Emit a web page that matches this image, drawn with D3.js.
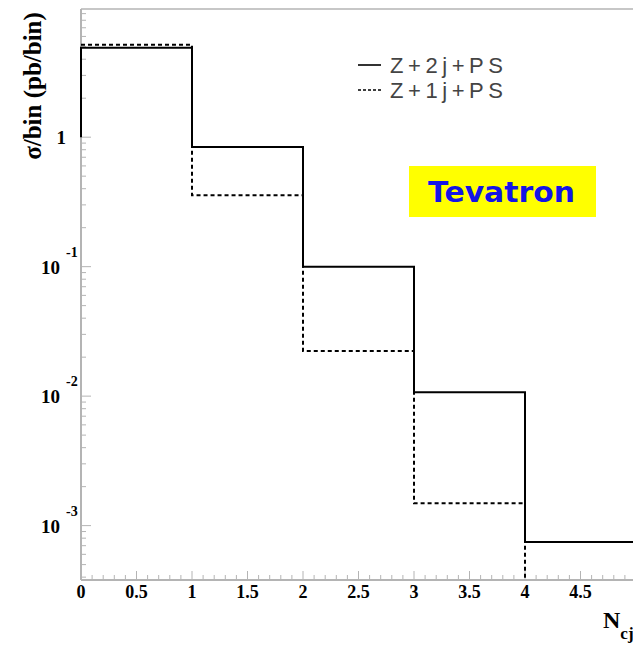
<!DOCTYPE html>
<html lang="en">
<head>
    <meta charset="UTF-8">
    <title>Z + jets, Tevatron</title>
    <script src="https://d3js.org/d3.v7.min.js"></script>
    <style>
        body { margin: 0; background: #fff; }
        svg { display: block; }
    </style>
</head>
<body>
    <svg width="633" height="646" id="chart"></svg>
    <script>
        const width = 633;
        const height = 646;

        // bin edges in N_cjets and sigma per bin (pb/bin)
        const binEdges = [0, 1, 2, 3, 4, 5];
        const z2jValues = [4.9, 0.84, 0.1, 0.0107, 0.000746];
        const z1jValues = [5.17, 0.356, 0.0223, 0.00149, 0];
        const seriesNames = ["Z+2j+PS", "Z+1j+PS"];
        const xTickLabels = ["0", "0.5", "1", "1.5", "2", "2.5", "3", "3.5", "4", "4.5"];
        const yDecades = [0, -1, -2, -3];

        const plot = { left: 81, top: 9, right: 636, bottom: 580 };
        const axisColor = "#b4b4b4";
        const serif = "'Liberation Serif', 'Times New Roman', serif";

        const svg = d3.select("#chart");

        const x = d3.scaleLinear().domain([0, 5]).range([plot.left, plot.right]);
        const y = d3.scaleLog()
            .domain([Math.pow(10, -3.42), Math.pow(10, 0.99)])
            .range([plot.bottom, plot.top]);
        const yMin = y.domain()[0];

        // frame: top and left/bottom axis lines
        svg.append("line")
            .attr("x1", plot.left).attr("x2", width)
            .attr("y1", plot.top).attr("y2", plot.top)
            .attr("stroke", axisColor).attr("stroke-width", 1.5);
        svg.append("line")
            .attr("x1", plot.left).attr("x2", plot.left)
            .attr("y1", plot.top).attr("y2", plot.bottom)
            .attr("stroke", axisColor).attr("stroke-width", 2);
        svg.append("line")
            .attr("x1", plot.left).attr("x2", width)
            .attr("y1", plot.bottom).attr("y2", plot.bottom)
            .attr("stroke", axisColor).attr("stroke-width", 2);

        // x ticks: minor every 0.1, major every 0.5
        const xTicks = d3.range(0, 51).map(i => i / 10);
        svg.append("g").selectAll("line")
            .data(xTicks)
            .join("line")
            .attr("x1", d => x(d)).attr("x2", d => x(d))
            .attr("y1", plot.bottom)
            .attr("y2", d => plot.bottom - (Math.abs(d * 2 - Math.round(d * 2)) < 1e-6 ? 9 : 5))
            .attr("stroke", axisColor).attr("stroke-width", 1);

        svg.append("g").selectAll("text")
            .data(xTickLabels)
            .join("text")
            .attr("x", d => x(+d))
            .attr("y", 598)
            .attr("text-anchor", "middle")
            .attr("font-family", serif)
            .attr("font-weight", "bold")
            .attr("font-size", 18)
            .text(d => d);

        // y ticks: log minor ticks, longer at decades
        const yTicks = y.ticks(20).filter(v => v >= yMin && v <= y.domain()[1]);
        svg.append("g").selectAll("line")
            .data(yTicks)
            .join("line")
            .attr("x1", plot.left)
            .attr("x2", d => plot.left + (Math.abs(Math.log10(d) - Math.round(Math.log10(d))) < 1e-6 ? 10 : 5))
            .attr("y1", d => y(d)).attr("y2", d => y(d))
            .attr("stroke", axisColor).attr("stroke-width", 1);

        const yLabels = svg.append("g")
            .attr("font-family", serif)
            .attr("font-weight", "bold");
        yDecades.forEach(p => {
            const yy = y(Math.pow(10, p));
            if (p === 0) {
                yLabels.append("text")
                    .attr("x", 66).attr("y", yy + 7)
                    .attr("text-anchor", "end")
                    .attr("font-size", 19)
                    .text("1");
            } else {
                yLabels.append("text")
                    .attr("x", 60).attr("y", yy + 7)
                    .attr("text-anchor", "end")
                    .attr("font-size", 19)
                    .text("10");
                yLabels.append("text")
                    .attr("x", 66).attr("y", yy - 10)
                    .attr("font-size", 14)
                    .text(String(p));
            }
        });

        // axis titles
        svg.append("text")
            .attr("transform", "translate(41,86) rotate(-90)")
            .attr("text-anchor", "middle")
            .attr("font-family", serif)
            .attr("font-weight", "bold")
            .attr("font-size", 25)
            .text("σ/bin (pb/bin)");

        const xTitle = svg.append("text")
            .attr("x", 603).attr("y", 628)
            .attr("font-family", serif)
            .attr("font-weight", "bold")
            .attr("font-size", 24);
        xTitle.append("tspan").text("N");
        xTitle.append("tspan").attr("dy", 11).attr("font-size", 17).text("cjets");

        // histograms drawn as step paths; an empty bin drops to the axis and stops
        function stepPoints(values, startValue) {
            const pts = [];
            if (startValue !== null) pts.push([binEdges[0], startValue]);
            for (let i = 0; i < values.length; i++) {
                if (values[i] <= 0) {
                    pts.push([binEdges[i], yMin]);
                    break;
                }
                pts.push([binEdges[i], values[i]]);
                pts.push([binEdges[i + 1], values[i]]);
            }
            return pts;
        }
        const line = d3.line().x(d => x(d[0])).y(d => y(d[1]));

        svg.append("defs").append("clipPath")
            .attr("id", "plot-clip")
            .append("rect")
            .attr("x", plot.left - 2).attr("y", plot.top)
            .attr("width", plot.right - plot.left + 4)
            .attr("height", plot.bottom - plot.top);

        svg.append("path")
            .datum(stepPoints(z1jValues, null))
            .attr("d", line)
            .attr("fill", "none")
            .attr("stroke", "#000")
            .attr("stroke-width", 2)
            .attr("stroke-dasharray", "4,3")
            .attr("clip-path", "url(#plot-clip)");

        svg.append("path")
            .datum(stepPoints(z2jValues, 1))
            .attr("d", line)
            .attr("fill", "none")
            .attr("stroke", "#000")
            .attr("stroke-width", 2)
            .attr("clip-path", "url(#plot-clip)");

        // legend
        const legend = svg.append("g");
        seriesNames.forEach((name, i) => {
            const ly = 65 + i * 25;
            legend.append("line")
                .attr("x1", 358).attr("x2", 381)
                .attr("y1", ly).attr("y2", ly)
                .attr("stroke", "#000")
                .attr("stroke-width", 1.6)
                .attr("stroke-dasharray", i === 0 ? null : "3,2");
            legend.append("text")
                .attr("x", 390).attr("y", ly + 8)
                .attr("font-family", "'Liberation Sans', Arial, sans-serif")
                .attr("font-size", 22)
                .attr("fill", "#444")
                .attr("textLength", 113)
                .attr("lengthAdjust", "spacing")
                .text(name);
        });

        // Tevatron label box
        svg.append("rect")
            .attr("x", 409).attr("y", 166)
            .attr("width", 187).attr("height", 51)
            .attr("fill", "#ffff00");
        svg.append("text")
            .attr("x", 428).attr("y", 202)
            .attr("font-family", "'DejaVu Sans', sans-serif")
            .attr("font-weight", "bold")
            .attr("font-size", 28)
            .attr("fill", "#1414e6")
            .attr("textLength", 147)
            .attr("lengthAdjust", "spacingAndGlyphs")
            .text("Tevatron");
    </script>
</body>
</html>
